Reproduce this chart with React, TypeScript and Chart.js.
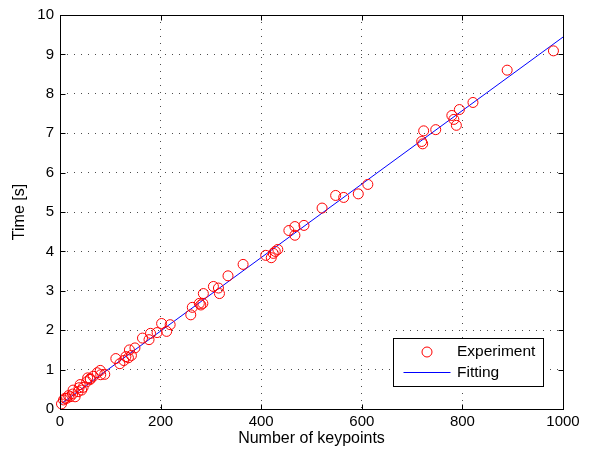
import React, { useEffect, useRef } from "react";
import { Chart, registerables } from "chart.js";

Chart.register(...registerables);

const expX = [981, 889, 821, 794, 779, 783, 788, 747, 723, 719, 721,
  612, 593, 564, 548, 521, 485, 467, 467, 455, 433, 428, 424, 420, 409, 364, 334,
  315, 317, 305, 285, 284, 280, 277, 263, 260, 219, 212, 202, 193, 180, 177, 164,
  149, 138, 142, 136, 131, 127, 119, 111, 89, 80, 81, 74, 66, 60, 55, 60, 53,
  46, 40, 38, 26, 25, 17, 13, 7, 3, 10, 20, 30, 36, 43];
const expY = [9.09, 8.6, 7.78, 7.6, 7.45, 7.35, 7.2, 7.09, 7.06, 6.79, 6.73,
  5.7, 5.46, 5.37, 5.42, 5.1, 4.66, 4.41, 4.63, 4.53, 4.05, 4.0, 3.95, 3.84, 3.9, 3.67, 3.38,
  3.07, 2.93, 3.11, 2.93, 2.68, 2.64, 2.68, 2.58, 2.39, 2.14, 1.97, 2.17, 1.94, 1.92, 1.76, 1.8,
  1.55, 1.5, 1.36, 1.3, 1.33, 1.23, 1.15, 1.28, 0.88, 0.98, 0.87, 0.92, 0.83, 0.77, 0.79, 0.75, 0.69,
  0.55, 0.62, 0.54, 0.48, 0.38, 0.34, 0.27, 0.23, 0.13, 0.27, 0.31, 0.31, 0.44, 0.48];
const fitX = [3, 1000];
const fitY = [0.14, 9.44];

const xTicks = [0, 200, 400, 600, 800, 1000];
const yTicks = [0, 1, 2, 3, 4, 5, 6, 7, 8, 9, 10];

const FONT = "'Liberation Sans', Arial, Helvetica, sans-serif";

const boxPlugin = {
  id: "matlabBox",
  afterDraw(chart: any) {
    const { ctx, chartArea: a, scales } = chart;
    ctx.save();
    ctx.strokeStyle = "#000";
    ctx.lineWidth = 1;
    const L = Math.round(a.left) + 0.5, R = Math.round(a.right) + 0.5;
    const T = Math.round(a.top) + 0.5, B = Math.round(a.bottom) + 0.5;
    ctx.strokeRect(L, T, R - L, B - T);
    const tl = 5;
    ctx.beginPath();
    xTicks.forEach((v) => {
      const p = Math.round(scales.x.getPixelForValue(v)) + 0.5;
      ctx.moveTo(p, B); ctx.lineTo(p, B - tl);
      ctx.moveTo(p, T); ctx.lineTo(p, T + tl);
    });
    yTicks.forEach((v) => {
      const p = Math.round(scales.y.getPixelForValue(v)) + 0.5;
      ctx.moveTo(L, p); ctx.lineTo(L + tl, p);
      ctx.moveTo(R, p); ctx.lineTo(R - tl, p);
    });
    ctx.stroke();

    // legend
    const w = 150, h = 48;
    const lx = Math.round(a.right - 20 - w) + 0.5;
    const ly = Math.round(a.bottom - 23 - h) + 0.5;
    ctx.fillStyle = "#fff";
    ctx.fillRect(lx, ly, w, h);
    ctx.strokeStyle = "#000";
    ctx.strokeRect(lx, ly, w, h);
    ctx.beginPath();
    ctx.strokeStyle = "#ff0000";
    ctx.arc(lx + 33.5, ly + 13.5, 5, 0, Math.PI * 2);
    ctx.stroke();
    ctx.beginPath();
    ctx.strokeStyle = "#0000ff";
    ctx.moveTo(lx + 10, ly + 34);
    ctx.lineTo(lx + 57, ly + 34);
    ctx.stroke();
    ctx.fillStyle = "#000";
    ctx.font = `15.5px ${FONT}`;
    ctx.textBaseline = "middle";
    ctx.textAlign = "left";
    ctx.fillText("Experiment", lx + 63.5, ly + 13.5);
    ctx.fillText("Fitting", lx + 63.5, ly + 34);
    ctx.restore();
  },
};

export default function App() {
  const ref = useRef<HTMLCanvasElement>(null);
  useEffect(() => {
    document.body.style.margin = "0";
    const chart = new Chart(ref.current!, {
      type: "scatter",
      data: {
        datasets: [
          {
            label: "Experiment",
            data: expX.map((x, i) => ({ x, y: expY[i] })),
            pointStyle: "circle",
            pointRadius: 5,
            pointBorderColor: "#ff0000",
            pointBackgroundColor: "rgba(0,0,0,0)",
            pointBorderWidth: 1,
            borderColor: "#ff0000",
            backgroundColor: "rgba(0,0,0,0)",
            showLine: false,
            clip: false,
          },
          {
            label: "Fitting",
            data: fitX.map((x, i) => ({ x, y: fitY[i] })),
            showLine: true,
            pointRadius: 0,
            borderColor: "#0000ff",
            borderWidth: 1,
            backgroundColor: "#0000ff",
          },
        ],
      },
      options: {
        responsive: false,
        animation: false,
        layout: { padding: { top: 12, right: 26, left: 0, bottom: 0 } },
        plugins: { legend: { display: false }, tooltip: { enabled: false } },
        scales: {
          x: {
            type: "linear",
            min: 0,
            max: 1000,
            afterBuildTicks: (s: any) => { s.ticks = xTicks.map((v) => ({ value: v })); },
            afterFit: (s: any) => { s.height = 42; },
            ticks: { color: "#000", font: { family: FONT, size: 15 }, padding: 4, maxRotation: 0, callback: (v: any) => String(v) },
            grid: { color: "rgba(0,0,0,0.7)", drawTicks: false, lineWidth: 1 },
            border: { display: false, dash: [1, 6] },
            title: { display: true, text: "Number of keypoints", color: "#000", font: { family: FONT, size: 16 }, padding: { top: 0, bottom: 3 } },
          },
          y: {
            type: "linear",
            min: 0,
            max: 10,
            afterBuildTicks: (s: any) => { s.ticks = yTicks.map((v) => ({ value: v })); },
            afterFit: (s: any) => { s.width = 60; },
            ticks: { color: "#000", font: { family: FONT, size: 15 }, padding: 6, callback: (v: any) => String(v) },
            grid: { color: "rgba(0,0,0,0.7)", drawTicks: false, lineWidth: 1 },
            border: { display: false, dash: [1, 6] },
            title: { display: true, text: "Time [s]", color: "#000", font: { family: FONT, size: 16 }, padding: { top: 10, bottom: 0 } },
          },
        },
      },
      plugins: [boxPlugin],
    });
    return () => chart.destroy();
  }, []);
  return <canvas ref={ref} width={589} height={451} style={{ display: "block" }} />;
}
